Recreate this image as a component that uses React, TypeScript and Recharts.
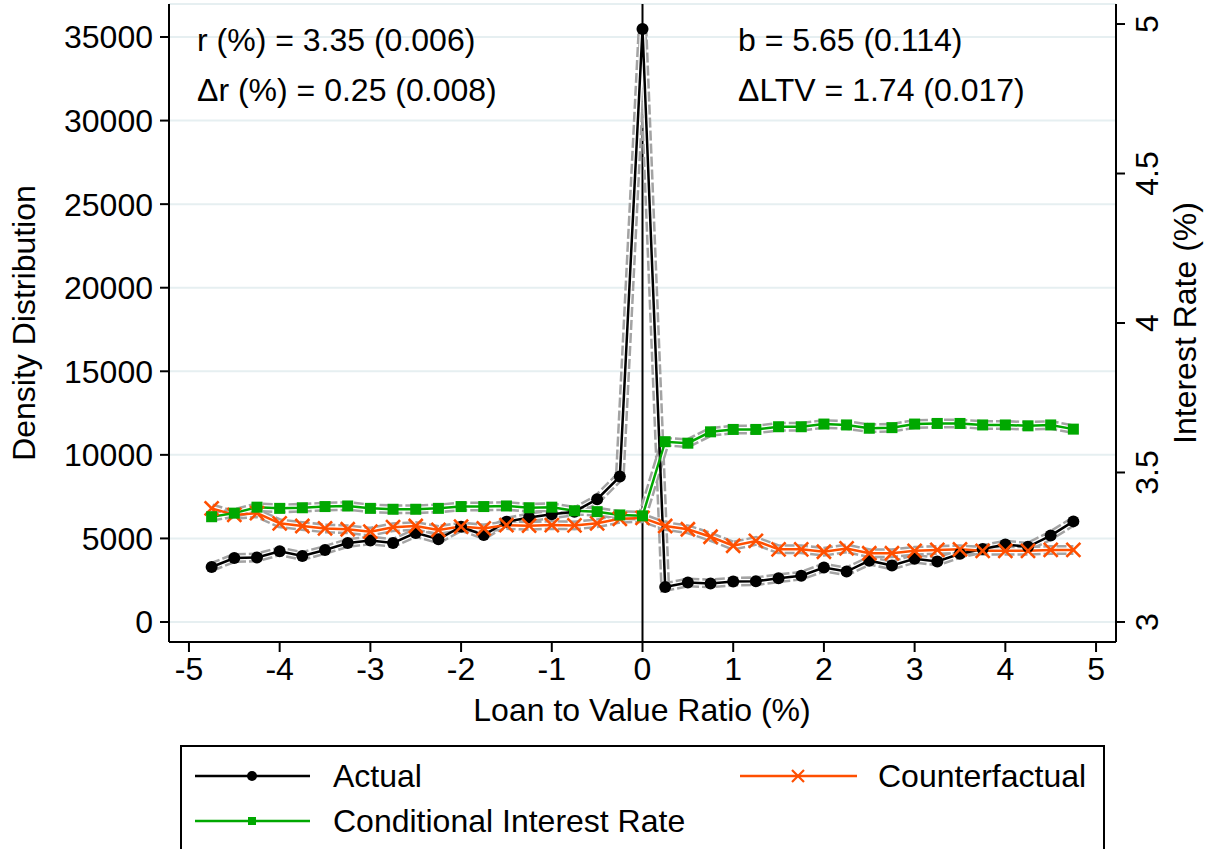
import {
  ComposedChart,
  Line,
  XAxis,
  YAxis,
  CartesianGrid,
  ReferenceLine,
  Legend,
  Customized,
} from "recharts";

// loan-to-value bins (distance from threshold, %)
const ltv = [
  -4.75, -4.5, -4.25, -4, -3.75, -3.5, -3.25, -3, -2.75, -2.5, -2.25, -2, -1.75,
  -1.5, -1.25, -1, -0.75, -0.5, -0.25, 0, 0.25, 0.5, 0.75, 1, 1.25, 1.5, 1.75, 2,
  2.25, 2.5, 2.75, 3, 3.25, 3.5, 3.75, 4, 4.25, 4.5, 4.75,
];

// density (left axis)
const actual = [
  3290, 3830, 3860, 4230, 3950, 4310, 4730, 4880, 4730, 5330, 4950, 5700, 5200,
  6000, 6250, 6450, 6600, 7350, 8700, 35480, 2100, 2360, 2310, 2420, 2440, 2620,
  2770, 3260, 3020, 3670, 3380, 3780, 3620, 4080, 4370, 4630, 4500, 5170, 6020,
];

// interest rates (right axis)
const counterfactual = [
  3.38, 3.358, 3.364, 3.33, 3.321, 3.313, 3.31, 3.302, 3.317, 3.321, 3.308,
  3.319, 3.313, 3.324, 3.322, 3.324, 3.323, 3.33, 3.345, 3.348, 3.321, 3.31,
  3.285, 3.255, 3.271, 3.243, 3.243, 3.235, 3.246, 3.23, 3.23, 3.238, 3.241,
  3.243, 3.238, 3.238, 3.238, 3.241, 3.241,
];

const conditionalRate = [
  3.352, 3.364, 3.384, 3.38, 3.382, 3.386, 3.388, 3.38, 3.377, 3.377, 3.38,
  3.386, 3.386, 3.388, 3.382, 3.384, 3.372, 3.369, 3.358, 3.355, 3.603, 3.598,
  3.636, 3.644, 3.644, 3.653, 3.653, 3.662, 3.659, 3.648, 3.65, 3.662, 3.664,
  3.664, 3.659, 3.659, 3.656, 3.659, 3.645,
];

const xTicks = [-5, -4, -3, -2, -1, 0, 1, 2, 3, 4, 5];
const densityTicks = [0, 5000, 10000, 15000, 20000, 25000, 30000, 35000];
const rateTicks = [3, 3.5, 4, 4.5, 5];

const data = ltv.map((x, i) => ({
  x,
  actual: actual[i],
  counterfactual: counterfactual[i],
  conditional: conditionalRate[i],
}));

const GREEN = "#00a800";
const ORANGE = "#ff4f00";
const BAND = "#a3a3a3";
const FONT = "'Liberation Sans', Arial, Helvetica, sans-serif";
const FS = 32;

function CrossDot(props: any) {
  const { cx, cy, index } = props;
  if (cx == null || cy == null) return null;
  const s = 7;
  return (
    <path
      key={`cx-${index}`}
      d={`M${cx - s},${cy - s}L${cx + s},${cy + s}M${cx - s},${cy + s}L${cx + s},${cy - s}`}
      stroke={ORANGE}
      strokeWidth={2.6}
      fill="none"
    />
  );
}

function SquareDot(props: any) {
  const { cx, cy, index } = props;
  if (cx == null || cy == null) return null;
  return <rect key={`sq-${index}`} x={cx - 5.5} y={cy - 5.5} width={11} height={11} fill={GREEN} />;
}

function RateTick(props: any) {
  const { x, y, payload } = props;
  const bx = x + 33;
  return (
    <text x={bx} y={y} transform={`rotate(-90 ${bx} ${y})`} textAnchor="middle" fontSize={FS} fill="#000">
      {payload.value}
    </text>
  );
}

function Annotations() {
  return (
    <g fontSize={FS} fill="#000" fontFamily={FONT}>
      <text x={197} y={51}>r (%) = 3.35 (0.006)</text>
      <text x={197} y={101}>Δr (%) = 0.25 (0.008)</text>
      <text x={738} y={51}>b = 5.65 (0.114)</text>
      <text x={738} y={101}>ΔLTV = 1.74 (0.017)</text>
      <text x={642} y={721} textAnchor="middle">Loan to Value Ratio (%)</text>
      <text x={35} y={323} transform="rotate(-90 35 323)" textAnchor="middle">Density Distribution</text>
      <text x={1196} y={323} transform="rotate(-90 1196 323)" textAnchor="middle">Interest Rate (%)</text>
    </g>
  );
}

function LegendBox() {
  return (
    <svg width={925} height={104} style={{ display: "block", fontFamily: FONT }}>
      <rect x={1} y={1} width={923} height={130} fill="#fff" stroke="#000" strokeWidth={2} />
      <line x1={15} y1={31} x2={130} y2={31} stroke="#000" strokeWidth={2.5} />
      <circle cx={72} cy={31} r={5} fill="#000" />
      <text x={153} y={31} dy="0.35em" fontSize={FS}>Actual</text>
      <line x1={560} y1={31} x2={677} y2={31} stroke={ORANGE} strokeWidth={2.5} />
      <path d="M612,25L624,37M612,37L624,25" stroke={ORANGE} strokeWidth={2.2} />
      <text x={698} y={31} dy="0.35em" fontSize={FS}>Counterfactual</text>
      <line x1={15} y1={76} x2={130} y2={76} stroke={GREEN} strokeWidth={2.5} />
      <rect x={68} y={72} width={8} height={8} fill={GREEN} />
      <text x={153} y={76} dy="0.35em" fontSize={FS}>Conditional Interest Rate</text>
    </svg>
  );
}

export default function App() {
  return (
    <div style={{ position: "absolute", left: 0, top: 0, fontFamily: FONT }}>
      <ComposedChart width={1214} height={849} data={data} margin={{ top: 4, right: 0, bottom: 0, left: 0 }}>
        <CartesianGrid yAxisId="left" vertical={false} stroke="#e6eff1" strokeWidth={2} />
        <XAxis
          dataKey="x"
          type="number"
          domain={[-5.22, 5.22]}
          ticks={xTicks}
          allowDataOverflow
          height={207}
          tickSize={10}
          tickMargin={5}
          axisLine={{ stroke: "#000", strokeWidth: 2 }}
          tickLine={{ stroke: "#000", strokeWidth: 2 }}
          tick={{ fill: "#000", fontSize: FS }}
        />
        <YAxis
          yAxisId="left"
          orientation="left"
          width={169}
          domain={[-1197, 36975]}
          ticks={densityTicks}
          allowDataOverflow
          tickSize={9}
          tickMargin={7}
          axisLine={{ stroke: "#000", strokeWidth: 2 }}
          tickLine={{ stroke: "#000", strokeWidth: 2 }}
          tick={{ fill: "#000", fontSize: FS }}
        />
        <YAxis
          yAxisId="right"
          orientation="right"
          width={98}
          domain={[2.933, 5.067]}
          ticks={rateTicks}
          allowDataOverflow
          tickSize={9}
          tickMargin={0}
          axisLine={{ stroke: "#000", strokeWidth: 2 }}
          tickLine={{ stroke: "#000", strokeWidth: 2 }}
          tick={<RateTick />}
        />
        <ReferenceLine yAxisId="left" x={0} stroke="#000" strokeWidth={2} />

        {/* grey confidence halo under each series */}
        <Line yAxisId="left" dataKey="actual" stroke={BAND} strokeWidth={10} strokeDasharray="10 3" dot={false} activeDot={false} isAnimationActive={false} legendType="none" />
        <Line yAxisId="left" dataKey="actual" stroke="#fff" strokeWidth={5} dot={false} activeDot={false} isAnimationActive={false} legendType="none" />
        <Line yAxisId="right" dataKey="counterfactual" stroke={BAND} strokeWidth={10} strokeDasharray="10 3" dot={false} activeDot={false} isAnimationActive={false} legendType="none" />
        <Line yAxisId="right" dataKey="counterfactual" stroke="#fff" strokeWidth={5} dot={false} activeDot={false} isAnimationActive={false} legendType="none" />
        <Line yAxisId="right" dataKey="conditional" stroke={BAND} strokeWidth={10} strokeDasharray="10 3" dot={false} activeDot={false} isAnimationActive={false} legendType="none" />
        <Line yAxisId="right" dataKey="conditional" stroke="#fff" strokeWidth={5} dot={false} activeDot={false} isAnimationActive={false} legendType="none" />

        <Line
          yAxisId="left"
          dataKey="actual"
          name="Actual"
          stroke="#000"
          strokeWidth={2.5}
          dot={{ r: 6, fill: "#000", stroke: "none" }}
          activeDot={false}
          isAnimationActive={false}
        />
        <Line
          yAxisId="right"
          dataKey="counterfactual"
          name="Counterfactual"
          stroke={ORANGE}
          strokeWidth={2.5}
          dot={(p: any) => <CrossDot key={`c-${p.index}`} {...p} />}
          activeDot={false}
          isAnimationActive={false}
        />
        <Line
          yAxisId="right"
          dataKey="conditional"
          name="Conditional Interest Rate"
          stroke={GREEN}
          strokeWidth={2.5}
          dot={(p: any) => <SquareDot key={`s-${p.index}`} {...p} />}
          activeDot={false}
          isAnimationActive={false}
        />
        <Customized component={<Annotations />} />
        <Legend
          layout="horizontal"
          verticalAlign="middle"
          align="center"
          content={() => <LegendBox />}
          wrapperStyle={{ top: 745, left: 180, width: 925, height: 104 }}
        />
      </ComposedChart>
    </div>
  );
}
